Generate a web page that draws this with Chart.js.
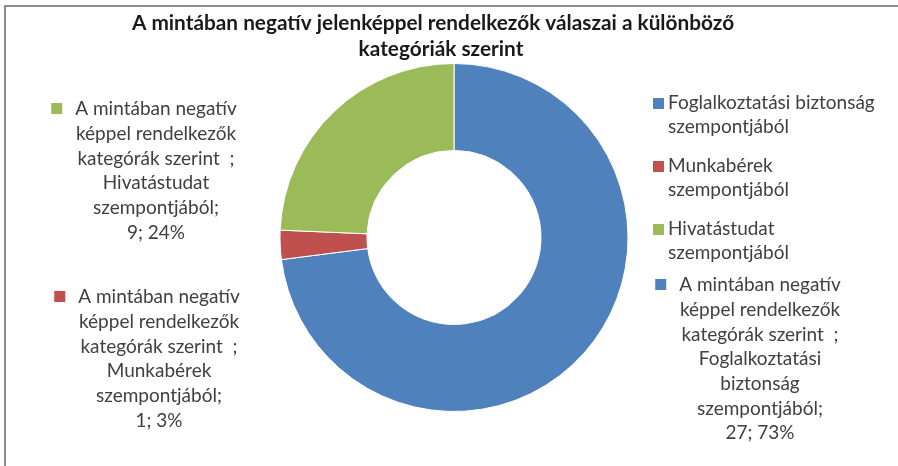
<!DOCTYPE html>
<html><head><meta charset="utf-8">
<script src="https://cdn.jsdelivr.net/npm/chart.js@4.4.1/dist/chart.umd.min.js"></script>
<style>html,body{margin:0;padding:0;background:#fff}#wrap{position:relative;width:898px;height:466px}</style>
</head><body><div id="wrap"><canvas id="c" width="898" height="466"></canvas></div>
<script>
const titleLines = ["A mintában negatív jelenképpel rendelkezők válaszai a különböző", "kategóriák szerint"];
const categories = ["Foglalkoztatási biztonság szempontjából", "Munkabérek szempontjából", "Hivatástudat szempontjából"];
const legendLines = [["Foglalkoztatási biztonság", "szempontjából"], ["Munkabérek", "szempontjából"], ["Hivatástudat", "szempontjából"]];
const seriesNameLines = ["A mintában negatív", "képpel rendelkezők", "kategórák szerint  ;"];
const categoryLabelLines = [["Foglalkoztatási", "biztonság", "szempontjából;"], ["Munkabérek", "szempontjából;"], ["Hivatástudat", "szempontjából;"]];
const values = [27, 1, 9];
const colors = ["#4F81BD", "#C0504D", "#9BBB59"];

const FONT = "Lato, 'Open Sans', sans-serif";
// label anchor placement (offsets from donut centre, px) - styling only
const labelPlace = [
  {dx: 306, top: 285},
  {dx: -295, top: 297},
  {dx: -298, top: 109}
];

const decor = {
  id: 'decor',
  afterDraw(chart) {
    const ctx = chart.ctx;
    const meta = chart.getDatasetMeta(0);
    const arc = meta.data[0];
    const cx = arc.x;
    const total = values.reduce((a, b) => a + b, 0);
    ctx.save();
    // frame
    ctx.fillStyle = '#8c8c8c';
    ctx.fillRect(4, 5, 894, 2);
    ctx.fillRect(4, 5, 2, 461);
    // title
    ctx.fillStyle = '#1a1a1a';
    ctx.font = "bold 20.8px " + FONT;
    ctx.textAlign = 'center';
    ctx.textBaseline = 'middle';
    ctx.fillText(titleLines[0], 433, 23);
    ctx.fillText(titleLines[1], 441, 49);
    // legend
    ctx.font = "19px " + FONT;
    ctx.textAlign = 'left';
    const legTop = [103, 166, 229];
    legendLines.forEach((lines, i) => {
      ctx.fillStyle = colors[i];
      ctx.fillRect(653, legTop[i] - 5, 11, 11);
      ctx.fillStyle = '#404040';
      lines.forEach((t, j) => ctx.fillText(t, 668, legTop[i] + j * 23.5));
    });
    // data labels
    values.forEach((v, i) => {
      const pct = Math.round(v / total * 100);
      const lines = seriesNameLines.concat(categoryLabelLines[i], [v + "; " + pct + "%"]);
      const x = cx + labelPlace[i].dx;
      const y0 = labelPlace[i].top;
      ctx.textAlign = 'center';
      ctx.fillStyle = '#404040';
      lines.forEach((t, j) => ctx.fillText(t, x, y0 + j * 24.7));
      const w0 = ctx.measureText(lines[0]).width;
      ctx.fillStyle = colors[i];
      ctx.fillRect(x - w0 / 2 - 24, y0 - 6, 11, 11);
    });
    ctx.restore();
  }
};

new Chart(document.getElementById('c'), {
  type: 'doughnut',
  data: {
    labels: categories,
    datasets: [{
      data: values,
      backgroundColor: colors,
      borderColor: '#ffffff',
      borderWidth: 1,
      hoverOffset: 0
    }]
  },
  options: {
    responsive: false,
    animation: false,
    cutout: '50%',
    layout: {padding: {top: 63, bottom: 54, left: 279, right: 269}},
    plugins: {legend: {display: false}, tooltip: {enabled: false}, title: {display: false}}
  },
  plugins: [decor]
});
</script></body></html>
